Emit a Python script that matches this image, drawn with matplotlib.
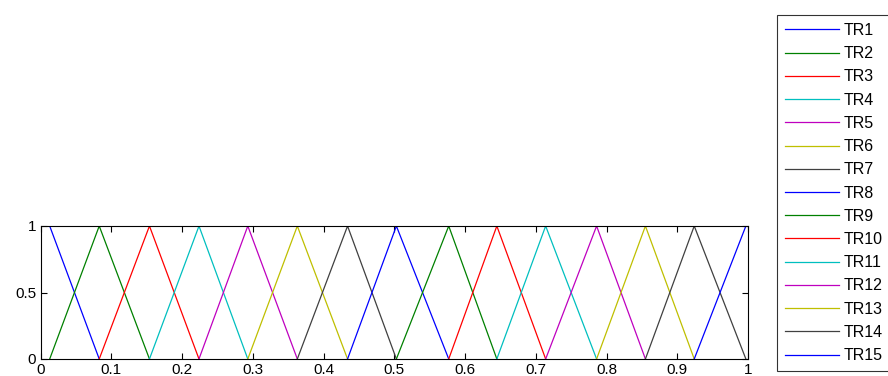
import matplotlib
matplotlib.use("Agg")
import matplotlib.pyplot as plt

# peak positions of the triangular functions
peaks = [0.013, 0.083, 0.154, 0.224, 0.293, 0.363, 0.434, 0.503,
         0.577, 0.645, 0.714, 0.786, 0.855, 0.924, 0.997]
labels = ["TR%d" % (i + 1) for i in range(len(peaks))]
# MATLAB's old default line colour order
colors = [(0, 0, 1), (0, 0.5, 0), (1, 0, 0), (0, 0.75, 0.75),
          (0.75, 0, 0.75), (0.75, 0.75, 0), (0.25, 0.25, 0.25)]
xticks = [0, 0.1, 0.2, 0.3, 0.4, 0.5, 0.6, 0.7, 0.8, 0.9, 1]
xticklabels = ["0", "0.1", "0.2", "0.3", "0.4", "0.5", "0.6", "0.7", "0.8", "0.9", "1"]
yticks = [0, 0.5, 1]
yticklabels = ["0", "0.5", "1"]

plt.rcParams["font.family"] = ["Liberation Sans", "DejaVu Sans"]

fig = plt.figure(figsize=(8.88, 3.76), dpi=100)
W, H = 888, 376
ax = fig.add_axes([40.5 / W, (H - 359) / H, (748 - 40.5) / W, (359 - 226) / H])

lines = []
for i, p in enumerate(peaks):
    xs, ys = [], []
    if i > 0:
        xs.append(peaks[i - 1])
        ys.append(0)
    else:
        xs.append(0)
        ys.append(1)
    xs.append(p)
    ys.append(1)
    if i < len(peaks) - 1:
        xs.append(peaks[i + 1])
        ys.append(0)
    else:
        xs.append(1)
        ys.append(1)
    ln, = ax.plot(xs, ys, color=colors[i % len(colors)], linewidth=0.9,
                  label=labels[i])
    lines.append(ln)

ax.set_xlim(0, 1)
ax.set_ylim(0, 1)
ax.set_xticks(xticks)
ax.set_xticklabels(xticklabels)
ax.set_yticks(yticks)
ax.set_yticklabels(yticklabels)
ax.tick_params(direction="in", top=True, right=True, length=4, width=0.8,
               labelsize=11, pad=3)
for s in ax.spines.values():
    s.set_linewidth(0.8)

leg = fig.legend(handles=lines, loc="upper left",
                 bbox_to_anchor=(777 / W, 1 - 15 / H), bbox_transform=fig.transFigure,
                 fontsize=11.5, frameon=True, fancybox=False, edgecolor="black",
                 handlelength=3.4, handletextpad=0.3, labelspacing=0.515,
                 borderpad=0.5, borderaxespad=0)
leg.get_frame().set_linewidth(0.8)

fig.savefig("out.png", dpi=100)
